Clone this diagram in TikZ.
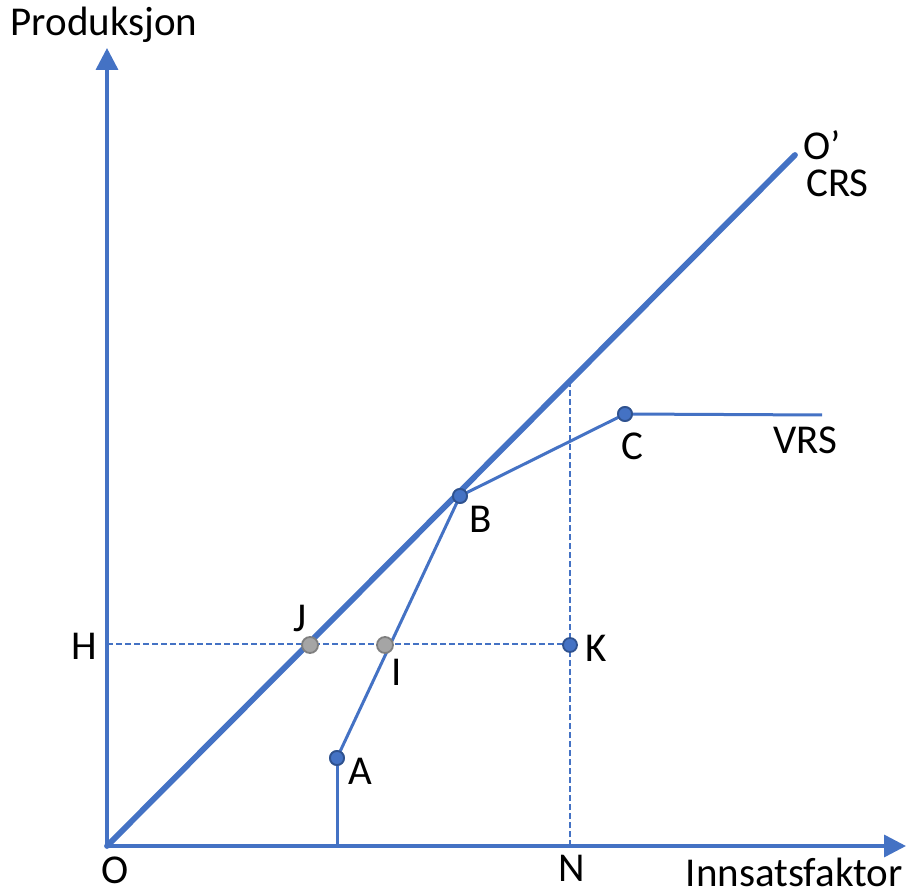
\documentclass[tikz,border=0pt]{standalone}
\usepackage{fontspec}
\setmainfont{Carlito}
\usetikzlibrary{arrows.meta}
\definecolor{lblue}{HTML}{4472C4}
\definecolor{dblue}{HTML}{2F528F}
\definecolor{gfill}{HTML}{A5A5A5}
\definecolor{gdraw}{HTML}{7F7F7F}
\begin{document}
\begin{tikzpicture}[x=1pt,y=-1pt,
  ax/.style={lblue,line width=3.5pt,-{Triangle[length=22pt,width=22pt]}},
  ln/.style={lblue,line width=3pt},
  crs/.style={lblue,line width=5.8pt},
  dsh/.style={lblue,line width=2pt,dash pattern=on 6pt off 3pt},
  bdot/.style={circle,fill=lblue,draw=dblue,line width=1.8pt,inner sep=0pt,minimum size=14pt},
  gdot/.style={circle,fill=gfill,draw=gdraw,line width=1.8pt,inner sep=0pt,minimum size=16pt},
  lab/.style={font=\fontsize{41}{44}\selectfont,inner sep=0pt}]
\useasboundingbox (0,0) rectangle (914,893);
\coordinate (O) at (107,846);
\coordinate (ytop) at (107,48);
\coordinate (xend) at (906,846);
\coordinate (Ot) at (795,155);
\coordinate (Ax) at (337,846);
\coordinate (Nx) at (570,846);
\coordinate (Ntop) at (570,383);
\coordinate (Hy) at (107,644);
\coordinate (vend) at (822,415);
% dashed
\draw[dsh] (Hy) -- (570,644);
\draw[dsh] (Nx) -- (Ntop);
% axes
\draw[ax] (O) -- (ytop);
\draw[ax] (O) -- (xend);
% CRS
\draw[crs,line cap=round] (O) -- (Ot);
% VRS
\node[bdot] (A) at (337,758) {};
\node[bdot] (B) at (460,496) {};
\node[bdot] (C) at (625,414) {};
\draw[ln] (Ax) -- (A.center);
\draw[ln] (A.center) -- (B.center);
\draw[ln] (B.center) -- (C.center);
\draw[ln] (C.center) -- (vend);
\node[bdot] at (A) {};
\node[bdot] at (B) {};
\node[bdot] at (C) {};
\node[gdot] (J) at (310,645) {};
\node[gdot] (I) at (385,645) {};
\node[bdot] (K) at (570,645) {};
% labels
\node[lab] at (104,25) {Produksjon};
\node[lab,anchor=east] at (903,872) {Innsatsfaktor};
\node[lab,anchor=west] at (803,145) {O’};
\node[lab,anchor=west] at (806,183) {CRS};
\node[lab] at (805,440) {VRS};
\node[lab] at (632,446) {C};
\node[lab] at (481,519) {B};
\node[lab] at (300,618) {J};
\node[lab] at (397,672) {I};
\node[lab] at (596,648) {K};
\node[lab] at (360,771) {A};
\node[lab] at (115,870) {O};
\node[lab] at (84,646) {H};
\node[lab] at (572,868) {N};
\end{tikzpicture}
\end{document}
